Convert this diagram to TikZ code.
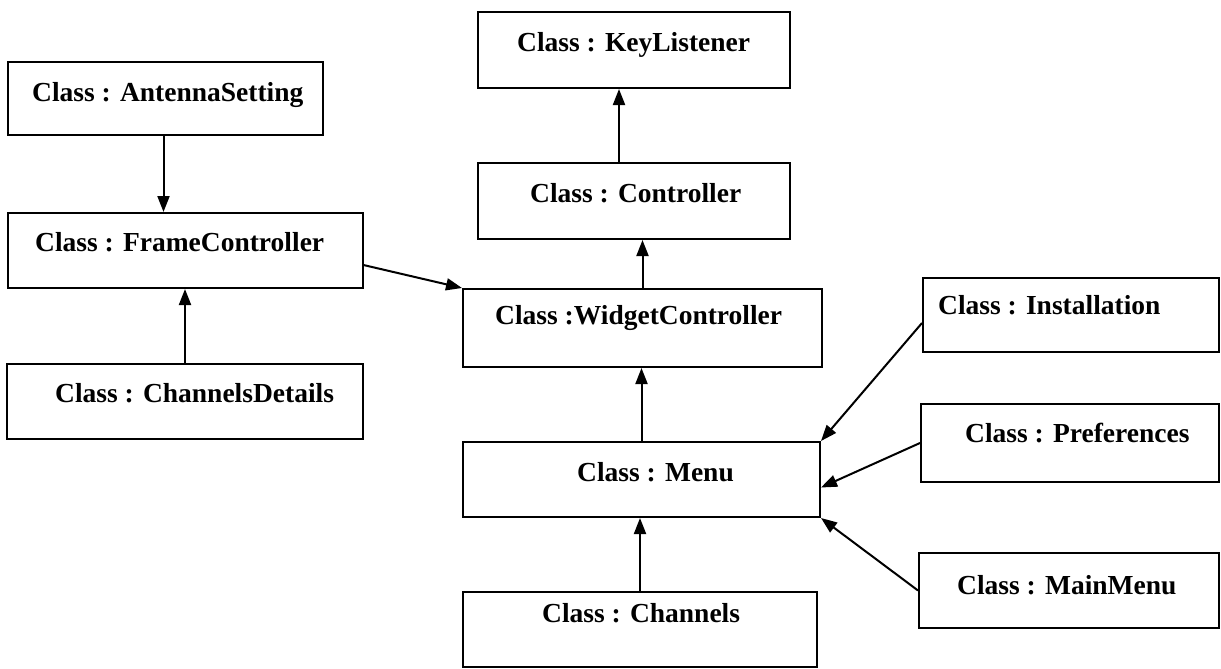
\documentclass[tikz,border=0pt]{standalone}
\usepackage{fontspec}
\setmainfont{Liberation Serif}
\usetikzlibrary{arrows.meta,calc}

\tikzset{
  box/.style={draw=black, line width=2pt, inner sep=0pt, fill=none},
  lbl/.style={anchor=base west, inner sep=0pt,
    font=\bfseries\fontsize{27.5}{30}\selectfont},
  arr/.style={line width=2pt, -{Triangle[length=16pt,width=12pt]}}
}

\begin{document}
\begin{tikzpicture}[x=1pt,y=-1pt]
\useasboundingbox (0,0) rectangle (1221,669);

% class boxes
\node[box, minimum width=315pt, minimum height=73pt] (ant)    at (165.5,98.5)  {};
\node[box, minimum width=355pt, minimum height=75pt] (frame)  at (185.5,250.5) {};
\node[box, minimum width=356pt, minimum height=75pt] (chd)    at (185,401.5)   {};
\node[box, minimum width=312pt, minimum height=76pt] (key)    at (634,50)      {};
\node[box, minimum width=312pt, minimum height=76pt] (ctrl)   at (634,201)     {};
\node[box, minimum width=359pt, minimum height=78pt] (widget) at (642.5,328)   {};
\node[box, minimum width=357pt, minimum height=75pt] (menu)   at (641.5,479.5) {};
\node[box, minimum width=354pt, minimum height=75pt] (chan)   at (640,629.5)   {};
\node[box, minimum width=296pt, minimum height=74pt] (inst)   at (1071,315)    {};
\node[box, minimum width=298pt, minimum height=78pt] (pref)   at (1070,443)    {};
\node[box, minimum width=300pt, minimum height=75pt] (mainm)  at (1069,590.5)  {};

% class names
\node[lbl] (tant)    at (32,102)  {Class : AntennaSetting};
\node[lbl] (tframe)  at (35,251)  {Class : FrameController};
\node[lbl] (tchd)    at (55,402)  {Class : ChannelsDetails};
\node[lbl] (tkey)    at (517,52)  {Class : KeyListener};
\node[lbl] (tctrl)   at (530,202) {Class : Controller};
\node[lbl] (twidget) at (495,324) {Class :WidgetController};
\node[lbl] (tmenu)   at (577,481) {Class : Menu};
\node[lbl] (tchan)   at (542,622) {Class : Channels};
\node[lbl] (tinst)   at (938,314) {Class : Installation};
\node[lbl] (tpref)   at (965,442) {Class : Preferences};
\node[lbl] (tmainm)  at (957,594) {Class : MainMenu};

% connector end points
\coordinate (antout)  at ($(ant.south)+(-2,0)$);
\coordinate (ctrlout) at ($(ctrl.north)+(-15,0)$);
\coordinate (frout)   at ($(frame.north east)!0.69!(frame.south east)$);
\coordinate (instout) at ($(inst.west)+(0,8)$);
\coordinate (menuin)  at ($(menu.east)+(0,8)$);

% inheritance arrows
\draw[arr] (antout) -- (antout |- frame.north);
\draw[arr] (chd.north) -- (chd.north |- frame.south);
\draw[arr] (frout) -- (widget.north west);
\draw[arr] (widget.north) -- (widget.north |- ctrl.south);
\draw[arr] (ctrlout) -- (ctrlout |- key.south);
\draw[arr] (menu.north) -- (menu.north |- widget.south);
\draw[arr] (chan.north) -- (chan.north |- menu.south);
\draw[arr] (instout) -- (menu.north east);
\draw[arr] (pref.west) -- (menuin);
\draw[arr] (mainm.west) -- (menu.south east);
\end{tikzpicture}
\end{document}
